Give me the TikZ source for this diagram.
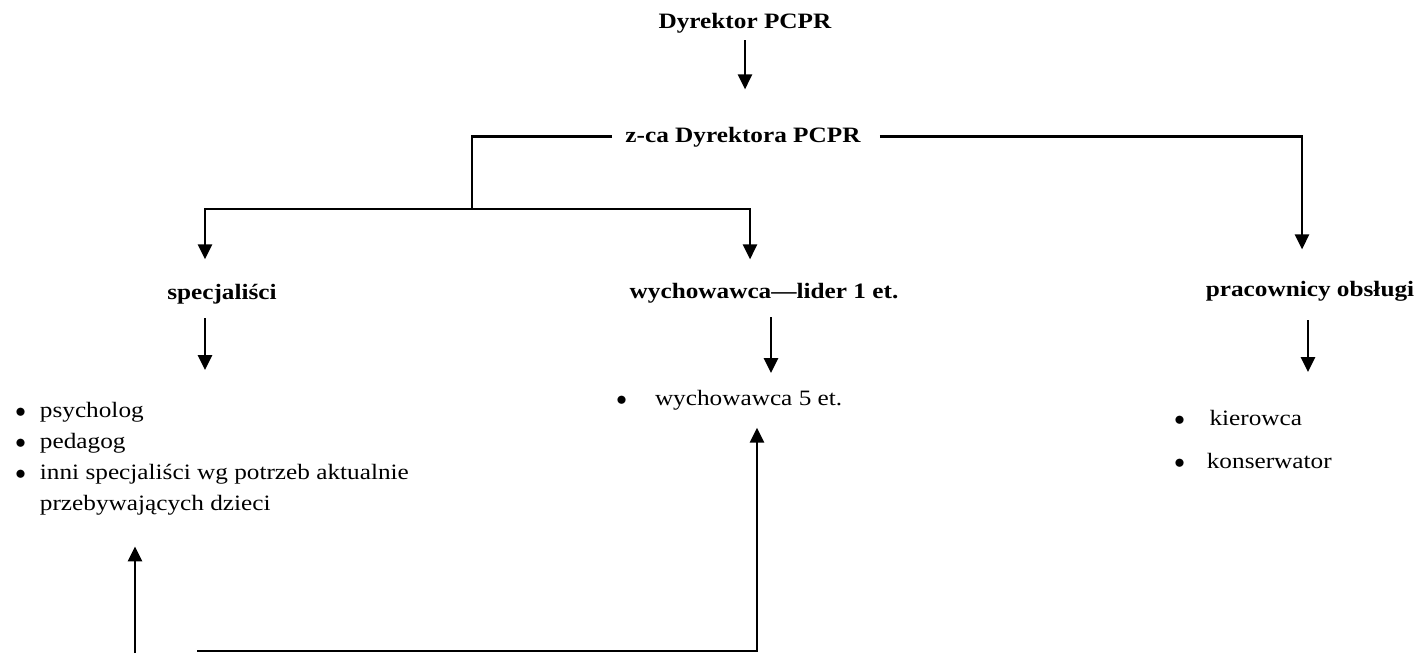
\documentclass[tikz,border=0pt]{standalone}
\usepackage{fontspec}
\setmainfont{Liberation Serif}[FakeStretch=1.15]
\usetikzlibrary{arrows.meta}

\begin{document}
\begin{tikzpicture}[x=0.02cm,y=-0.02cm,
  every node/.style={inner sep=0pt,font=\fontsize{12.5}{17.6}\selectfont},
  head/.style={font=\fontsize{12.5}{17.6}\selectfont\bfseries},
  link/.style={line width=1.5pt},
  arr/.style={link,-{Triangle[length=0.3cm,width=0.28cm]}}]
\useasboundingbox (0,0) rectangle (1424,653);

% kierownictwo
\path (745,28) node (dyr) [head,anchor=base] {Dyrektor PCPR};
\path (743,142) node (zca) [head,anchor=base] {z-ca Dyrektora PCPR};

% dzialy
\path (222,299) node (spec) [head,anchor=base] {specjaliści};
\path (764,298) node (lider) [head,anchor=base] {wychowawca—lider 1 et.};
\path (1310,296) node (prac) [head,anchor=base] {pracownicy obsługi};

% listy
\path (15,402) node (splist) [anchor=north west,align=left]
  {$\bullet$\hspace{8pt}psycholog\\
   $\bullet$\hspace{8pt}pedagog\\
   $\bullet$\hspace{8pt}inni specjaliści wg potrzeb aktualnie\\
   \phantom{$\bullet$\hspace{8pt}}przebywających dzieci};
\path (616,390) node (wlist) [anchor=north west] {$\bullet$\hspace{16pt}wychowawca 5 et.};
\path (1174,410) node (prlist) [anchor=north west,align=left]
  {$\bullet$\hspace{14pt}kierowca\\[6.8pt]
   $\bullet$\hspace{12.5pt}konserwator};

\coordinate (split) at (472,209);
\coordinate (lspec) at (205,209);
\coordinate (llid) at (750,209);
\coordinate (bl) at (135,653);
\coordinate (bm) at (197,651);
\coordinate (br) at (757,651);

\draw [arr,shorten <=0.14cm,shorten >=0.74cm] (dyr.south) -- (dyr.south |- zca.north);

\draw [link] ([xshift=-0.26cm]zca.west) -| (split);
\draw [arr,shorten >=0.48cm] (split) -- (lspec) -- (lspec |- spec.north);
\draw [arr,shorten >=0.46cm] (split) -- (llid) -- (llid |- lider.north);
\draw [arr,shorten >=0.62cm] ([xshift=0.38cm]zca.east) -| ([xshift=-0.16cm]prac.north);

\draw [arr,shorten <=0.28cm,shorten >=0.64cm] (spec.south -| lspec) -- (lspec |- splist.north);
\draw [arr,shorten <=0.28cm,shorten >=0.34cm] ([xshift=0.14cm]lider.south) -- ([xshift=0.14cm]lider.south |- wlist.north);
\draw [arr,shorten <=0.38cm,shorten >=0.76cm] ([xshift=-0.04cm]prac.south) -- ([xshift=-0.04cm]prac.south |- prlist.north);

% od dolu
\draw [arr,shorten >=0.62cm] (bl) -- (bl |- splist.south);
\draw [arr,shorten >=0.34cm] (bm) -- (br) -- (br |- wlist.south);

\end{tikzpicture}
\end{document}
